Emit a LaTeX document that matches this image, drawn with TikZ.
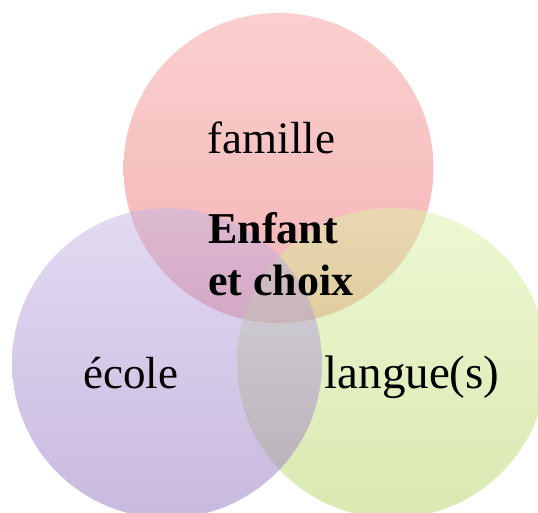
\documentclass[tikz,border=0pt]{standalone}
\usepackage{fontspec}
\setmainfont{Liberation Serif}
\definecolor{redT}{RGB}{248,160,160}
\definecolor{redB}{RGB}{232,104,104}
\definecolor{purT}{RGB}{198,182,230}
\definecolor{purB}{RGB}{146,116,190}
\definecolor{grnT}{RGB}{218,242,166}
\definecolor{grnB}{RGB}{182,210,98}
\tikzset{
  venn/.style={fill opacity=0.5, draw=none},
  lbl/.style={anchor=base, inner sep=0pt, font=\fontsize{45}{52}\selectfont},
  blbl/.style={anchor=base west, inner sep=0pt, font=\fontsize{44}{52}\selectfont\bfseries},
}
\begin{document}
\begin{tikzpicture}[x=1pt,y=-1pt]
\useasboundingbox (0,0) rectangle (538,512);
\clip (0,0) rectangle (538,512);
\shade[venn, top color=redT, bottom color=redB] (278.5,168) circle (155);
\shade[venn, top color=grnT, bottom color=grnB] (392,363) circle (155);
\shade[venn, top color=purT, bottom color=purB] (167,363) circle (155);
\node[lbl] (famille) at (271.5,153) {famille};
\node[lbl] (ecole) at (130.5,388) {école};
\node[lbl, font=\fontsize{47}{52}\selectfont] (langue) at (412,388) {langue(s)};
\node[blbl] (enfant) at (208,243) {Enfant};
\node[blbl] (choix) at (208,295) {et choix};
\end{tikzpicture}
\end{document}
